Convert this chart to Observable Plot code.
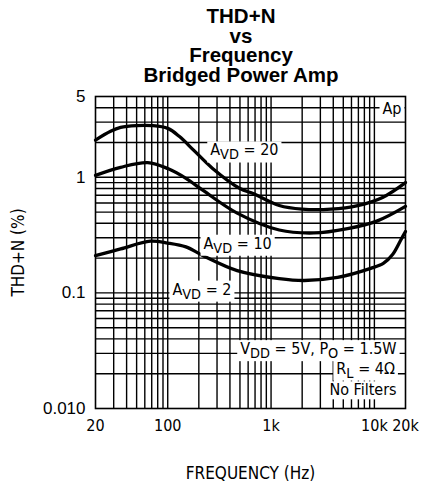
<!DOCTYPE html>
<html>
<head>
<meta charset="utf-8">
<script src="https://cdn.jsdelivr.net/npm/d3@7"></script>
<script src="https://cdn.jsdelivr.net/npm/@observablehq/plot@0.6"></script>
<style>
  body { margin: 0; background: #fff; width: 421px; height: 483px; overflow: hidden; }
  #title {
    box-sizing: border-box; width: 421px; height: 84px; padding: 6px 0 0 61px;
    text-align: center; font: bold 20.5px/19.6px "Liberation Sans", Arial, sans-serif; color: #000;
  }
  #chart svg { display: block; }
</style>
</head>
<body>
<div id="title">THD+N<br>vs<br>Frequency<br>Bridged Power Amp</div>
<div id="chart"></div>
<script>
// Axis ticks and their printed labels
const xTicks = [20, 100, 1000, 10000, 20000];
const xTickLabels = ["20", "100", "1k", "10k", "20k"];
const yTicks = [0.01, 0.1, 1, 5];
const yTickLabels = ["0.010", "0.1", "1", "5"];

// Log grid rulings
const xGrid = [30, 40, 50, 60, 70, 80, 90, 100,
  200, 300, 400, 500, 600, 700, 800, 900, 1000,
  2000, 3000, 4000, 5000, 6000, 7000, 8000, 9000, 10000];
const yGrid = [0.02, 0.03, 0.04, 0.05, 0.06, 0.07, 0.08, 0.09, 0.1,
  0.2, 0.3, 0.4, 0.5, 0.6, 0.7, 0.8, 0.9, 1, 2, 3, 4];

// THD+N (%) vs frequency (Hz), one pair of arrays per closed-loop gain
const avd20Freq = [20, 28, 35, 50, 70, 100, 130, 180, 270, 500, 680, 1200, 2000, 3800, 6900, 12000, 20000];
const avd20Thd  = [2.1, 2.5, 2.7, 2.8, 2.8, 2.65, 2.25, 1.7, 1.2, 0.8, 0.72, 0.57, 0.53, 0.53, 0.57, 0.67, 0.9];

const avd10Freq = [20, 35, 64, 100, 150, 220, 470, 1200, 2600, 5500, 10700, 20000];
const avd10Thd  = [1.04, 1.22, 1.34, 1.19, 0.98, 0.77, 0.49, 0.35, 0.33, 0.36, 0.42, 0.56];

const avd2Freq = [20, 35, 68, 100, 150, 220, 470, 1200, 2100, 4400, 9200, 12200, 15000, 17900, 20000];
const avd2Thd  = [0.21, 0.24, 0.28, 0.27, 0.25, 0.21, 0.156, 0.133, 0.128, 0.136, 0.163, 0.18, 0.215, 0.284, 0.34];

// In-plot notes; {..} marks a subscript
const leftNotes  = ["A{VD} = 20", "A{VD} = 10", "A{VD} = 2"];
const leftFreq   = [258, 222, 111];
const leftThd    = [1.71, 0.267, 0.107];
const rightNotes = ["Ap", "V{DD} = 5V, P{O} = 1.5W", "R{L} = 4Ω", "No Filters"];
const rightFreq  = [18300, 16400, 15800, 16400];
const rightThd   = [3.94, 0.0327, 0.0222, 0.0144];

const series = [
  ["20", avd20Freq, avd20Thd],
  ["10", avd10Freq, avd10Thd],
  ["2", avd2Freq, avd2Thd]
];
const curveRows = series.flatMap(([g, fs, ts]) => fs.map((f, i) => ({gain: g, f, thd: ts[i]})));
const leftRows = leftNotes.map((text, i) => ({text, f: leftFreq[i], thd: leftThd[i]}));
const rightRows = rightNotes.map((text, i) => ({text, f: rightFreq[i], thd: rightThd[i]}));

const xLabelOf = new Map(xTicks.map((d, i) => [d, xTickLabels[i]]));
const yLabelOf = new Map(yTicks.map((d, i) => [d, yTickLabels[i]]));

const plotFont = '"DejaVu Sans Condensed", "Liberation Sans Narrow", "DejaVu Sans", sans-serif';
const tickFont = '"Liberation Sans", Arial, sans-serif';

const chart = Plot.plot({
  width: 421,
  height: 399,
  marginTop: 12,
  marginRight: 16,
  marginBottom: 75,
  marginLeft: 95,
  style: {background: "white", color: "black", fontFamily: plotFont, fontSize: "16px"},
  x: {type: "log", domain: [20, 20000]},
  y: {type: "log", domain: [0.01, 5]},
  marks: [
    Plot.ruleX(xGrid, {stroke: "black", strokeWidth: 1.4}),
    Plot.ruleY(yGrid, {stroke: "black", strokeWidth: 1.4}),
    Plot.line(curveRows, {x: "f", y: "thd", z: "gain", stroke: "black", strokeWidth: 3.3, curve: "catmull-rom"}),
    Plot.text(leftRows, {x: "f", y: "thd", text: "text", textAnchor: "start", fill: "black", fontSize: 16, className: "note"}),
    Plot.text(rightRows, {x: "f", y: "thd", text: "text", textAnchor: "end", fill: "black", fontSize: 16, className: "note"}),
    Plot.frame({stroke: "black", strokeWidth: 1.6}),
    // tick labels
    Plot.text(xTicks, {x: d => d, frameAnchor: "bottom", lineAnchor: "top", dy: 11, text: d => xLabelOf.get(d), fontSize: 16}),
    Plot.text(yTicks, {y: d => d, frameAnchor: "left", textAnchor: "end", dx: -10, text: d => yLabelOf.get(d), fontFamily: tickFont, fontSize: 17}),
    // axis titles
    Plot.axisX([], {label: "FREQUENCY (Hz)", labelAnchor: "center", labelArrow: "none", labelOffset: 70, fontSize: 17}),
    Plot.axisY([], {label: "THD+N (%)", labelAnchor: "center", labelArrow: "none", labelOffset: 84, fontSize: 17})
  ]
});

document.getElementById("chart").appendChild(chart);

// Turn {..} runs into subscripts and lay a white card under each note
const NS = "http://www.w3.org/2000/svg";
chart.querySelectorAll("g.note").forEach(g => {
  const texts = Array.from(g.querySelectorAll("text"));
  const first = texts[0];
  for (const t of texts) {
    const parts = t.textContent.split(/(\{[^}]*\})/).filter(s => s.length);
    t.textContent = "";
    for (const p of parts) {
      const ts = document.createElementNS(NS, "tspan");
      if (p[0] === "{") {
        ts.textContent = p.slice(1, -1);
        ts.setAttribute("font-size", "0.9em");
        ts.setAttribute("baseline-shift", "-0.28em");
      } else {
        ts.textContent = p;
      }
      t.appendChild(ts);
    }
    const b = t.getBBox();
    const r = document.createElementNS(NS, "rect");
    r.setAttribute("x", b.x - 3);
    r.setAttribute("y", b.y + 1);
    r.setAttribute("width", b.width + 6);
    r.setAttribute("height", b.height - 1);
    r.setAttribute("fill", "white");
    r.setAttribute("stroke", "none");
    const tr = t.getAttribute("transform");
    if (tr) r.setAttribute("transform", tr);
    g.insertBefore(r, first);
  }
});
</script>
</body>
</html>
